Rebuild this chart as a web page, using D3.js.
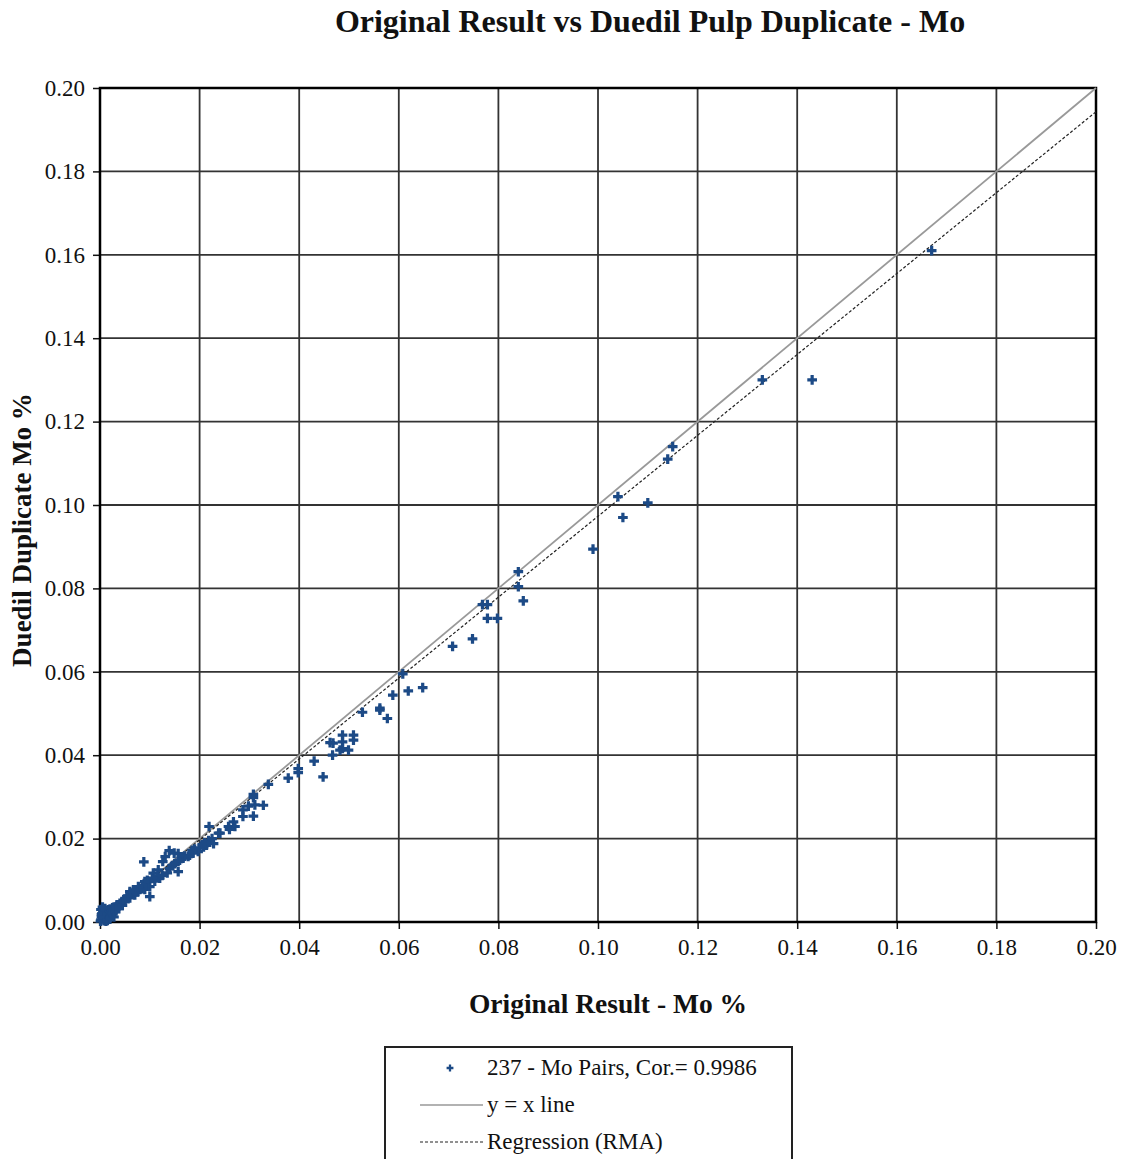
<!DOCTYPE html>
<html>
<head>
<meta charset="utf-8">
<script src="https://cdnjs.cloudflare.com/ajax/libs/d3/7.8.5/d3.min.js"></script>
<style>
  body { margin: 0; background: #fff; }
  svg text { font-family: "Liberation Serif", "Times New Roman", serif; fill: #111; }
</style>
</head>
<body>
<div id="chart"></div>
<script>
// original result vs pulp duplicate (Mo %)
var moPairs = [
  [0.167,0.161],[0.143,0.130],[0.133,0.130],[0.115,0.114],[0.114,0.111],[0.110,0.1005],
  [0.104,0.102],[0.105,0.097],[0.099,0.0894],[0.084,0.084],[0.084,0.0804],[0.085,0.077],
  [0.0768,0.0761],[0.0778,0.0761],[0.0778,0.0728],[0.0798,0.0728],[0.0748,0.0679],[0.0708,0.0661],
  [0.0608,0.0595],[0.0588,0.0544],[0.0619,0.0554],[0.0648,0.0562],[0.0562,0.0513],[0.0562,0.0508],
  [0.0577,0.0488],[0.0527,0.0503],[0.0509,0.0448],[0.0509,0.0436],[0.0487,0.0448],[0.0487,0.0432],
  [0.0462,0.043],[0.0468,0.0429],[0.0487,0.0416],[0.0499,0.0412],[0.0482,0.0412],[0.0467,0.040],
  [0.0448,0.0348],[0.043,0.0386],[0.0398,0.0368],[0.0398,0.0358],[0.0378,0.0345],[0.0338,0.033],
  [0.0308,0.0306],[0.0308,0.0298],[0.0311,0.0281],[0.0298,0.0278],[0.0328,0.028],[0.0308,0.0254],
  [0.0287,0.0269],[0.0287,0.0253],[0.0268,0.024],[0.0258,0.0229],[0.0271,0.0229],[0.026,0.0222],
  [0.0241,0.0213],[0.0219,0.0229],[0.0238,0.0213],[0.0228,0.0188],[0.0214,0.0184],[0.0208,0.018],
  [0.0197,0.0169],[0.0187,0.0165],[0.0177,0.0157],[0.0167,0.0153],[0.0157,0.0145],[0.0157,0.0121],
  [0.0157,0.0164],[0.0149,0.0165],[0.0139,0.0171],[0.0131,0.0157],[0.0126,0.0145],[0.0117,0.0125],
  [0.0107,0.0117],[0.0088,0.0144],[0.0145,0.0135],[0.015,0.014],[0.016,0.0148],[0.017,0.0158],
  [0.018,0.016],[0.0185,0.0172],[0.019,0.0175],[0.020,0.0178],[0.0205,0.0185],[0.021,0.019],
  [0.0218,0.0195],[0.0225,0.020],[0.0135,0.0118],[0.014,0.0128],[0.0125,0.0112],[0.012,0.0105],
  [0.0115,0.011],[0.011,0.0098],[0.0105,0.0105],[0.0095,0.010],[0.010,0.0085],[0.010,0.0061],
  [0.0097,0.0097],[0.009,0.0097],[0.009,0.0078],[0.0085,0.008],[0.0085,0.0088],[0.008,0.0078],
  [0.0077,0.0085],[0.0075,0.0072],[0.007,0.0075],[0.007,0.0065],[0.0067,0.0077],[0.0065,0.0068],
  [0.006,0.0073],[0.006,0.0058],[0.0055,0.0062],[0.0054,0.0061],[0.005,0.0055],[0.005,0.0048],
  [0.0045,0.004],[0.0044,0.0049],[0.004,0.0045],[0.0035,0.0038],[0.0034,0.0041],[0.0027,0.0035],
  [0.0017,0.0029],[0.0007,0.0025],[0.0002,0.0005],[0.0003,0.0012],[0.0004,0.002],[0.0005,0.0008],
  [0.0006,0.0028],[0.0007,0.0015],[0.0008,0.0003],[0.0009,0.0022],[0.001,0.001],[0.001,0.0032],
  [0.0011,0.0018],[0.0012,0.0006],[0.0013,0.0026],[0.0014,0.0014],[0.0015,0.0021],[0.0016,0.0009],
  [0.0017,0.0017],[0.0018,0.0024],[0.0019,0.0012],[0.002,0.0031],[0.0021,0.002],[0.0022,0.0016],
  [0.0023,0.0027],[0.0024,0.0022],[0.0025,0.0034],[0.0026,0.0019],[0.0027,0.0028],[0.003,0.0025],
  [0.003,0.0036],[0.0001,0.0002],[0.0002,0.003],[0.0003,0.0018],[0.0005,0.0036],[0.0008,0.0011],
  [0.0012,0.0002],[0.0015,0.0004],[0.002,0.0007],[0.0028,0.0012],[0.0032,0.0031],[0.0038,0.0032]
];

var xTicks = [0, 0.02, 0.04, 0.06, 0.08, 0.10, 0.12, 0.14, 0.16, 0.18, 0.20];
var yTicks = [0, 0.02, 0.04, 0.06, 0.08, 0.10, 0.12, 0.14, 0.16, 0.18, 0.20];
var rmaSlope = 0.970;
var rmaIntercept = 0.0003;
var legendLabels = ["237 - Mo Pairs, Cor.= 0.9986", "y = x line", "Regression (RMA)"];

var width = 1122, height = 1159;
var plotLeft = 100, plotRight = 1096, plotTop = 88, plotBottom = 922;
var navy = "#1c4a86";

var svg = d3.select("#chart").append("svg")
  .attr("width", width)
  .attr("height", height);

var x = d3.scaleLinear().domain([0, 0.2]).range([plotLeft, plotRight]);
var y = d3.scaleLinear().domain([0, 0.2]).range([plotBottom, plotTop]);

// title
svg.append("text")
  .attr("x", 650).attr("y", 32)
  .attr("text-anchor", "middle")
  .style("font-size", "32px").style("font-weight", "bold")
  .text("Original Result vs Duedil Pulp Duplicate - Mo");

// grid
svg.append("g").selectAll("line")
  .data(xTicks.slice(1, -1))
  .enter().append("line")
  .attr("x1", function(d) { return x(d); }).attr("x2", function(d) { return x(d); })
  .attr("y1", plotTop).attr("y2", plotBottom)
  .attr("stroke", "#333").attr("stroke-width", 1.8);

svg.append("g").selectAll("line")
  .data(yTicks.slice(1, -1))
  .enter().append("line")
  .attr("y1", function(d) { return y(d); }).attr("y2", function(d) { return y(d); })
  .attr("x1", plotLeft).attr("x2", plotRight)
  .attr("stroke", "#333").attr("stroke-width", 1.8);

// axes
var xAxis = svg.append("g")
  .attr("transform", "translate(0," + plotBottom + ")")
  .call(d3.axisBottom(x).tickValues(xTicks).tickFormat(d3.format(".2f")).tickSize(7).tickPadding(10));
var yAxis = svg.append("g")
  .attr("transform", "translate(" + plotLeft + ",0)")
  .call(d3.axisLeft(y).tickValues(yTicks).tickFormat(d3.format(".2f")).tickSize(7).tickPadding(8));

[xAxis, yAxis].forEach(function(a) {
  a.select(".domain").remove();
  a.selectAll(".tick line").attr("stroke", "#111").attr("stroke-width", 1.5);
  a.selectAll(".tick text").style("font-size", "23px").attr("fill", "#111")
    .style("font-family", "'Liberation Serif', 'Times New Roman', serif");
});

// plot frame
svg.append("rect")
  .attr("x", plotLeft).attr("y", plotTop)
  .attr("width", plotRight - plotLeft).attr("height", plotBottom - plotTop)
  .attr("fill", "none").attr("stroke", "#000").attr("stroke-width", 2.5);

// y = x line
svg.append("line")
  .attr("x1", x(0)).attr("y1", y(0))
  .attr("x2", x(0.2)).attr("y2", y(0.2))
  .attr("stroke", "#999").attr("stroke-width", 1.8);

// RMA regression
svg.append("line")
  .attr("x1", x(0)).attr("y1", y(rmaIntercept))
  .attr("x2", x(0.2)).attr("y2", y(rmaIntercept + rmaSlope * 0.2))
  .attr("stroke", "#222").attr("stroke-width", 1.2)
  .attr("stroke-dasharray", "3,2");

// points
var plus = d3.symbol().type(d3.symbolCross).size(52);
svg.append("g").selectAll("path")
  .data(moPairs)
  .enter().append("path")
  .attr("d", plus)
  .attr("transform", function(d) { return "translate(" + x(d[0]) + "," + y(d[1]) + ")"; })
  .attr("fill", navy);

// axis titles
svg.append("text")
  .attr("x", 608).attr("y", 1013)
  .attr("text-anchor", "middle")
  .style("font-size", "27.5px").style("font-weight", "bold")
  .text("Original Result - Mo %");

svg.append("text")
  .attr("transform", "translate(31,530) rotate(-90)")
  .attr("text-anchor", "middle")
  .style("font-size", "27px").style("font-weight", "bold")
  .text("Duedil Duplicate Mo %");

// legend
var lg = svg.append("g");
lg.append("rect")
  .attr("x", 385).attr("y", 1047)
  .attr("width", 407).attr("height", 140)
  .attr("fill", "#fff").attr("stroke", "#222").attr("stroke-width", 2);

lg.append("path")
  .attr("d", d3.symbol().type(d3.symbolCross).size(26))
  .attr("transform", "translate(450,1068)")
  .attr("fill", navy);

lg.append("line")
  .attr("x1", 420).attr("x2", 483).attr("y1", 1105).attr("y2", 1105)
  .attr("stroke", "#999").attr("stroke-width", 1.5);

lg.append("line")
  .attr("x1", 420).attr("x2", 483).attr("y1", 1142).attr("y2", 1142)
  .attr("stroke", "#222").attr("stroke-width", 1.2)
  .attr("stroke-dasharray", "3,2");

lg.selectAll("text")
  .data(legendLabels)
  .enter().append("text")
  .attr("x", 487)
  .attr("y", function(d, i) { return 1075 + i * 37; })
  .style("font-size", "23px")
  .text(function(d) { return d; });
</script>
</body>
</html>
